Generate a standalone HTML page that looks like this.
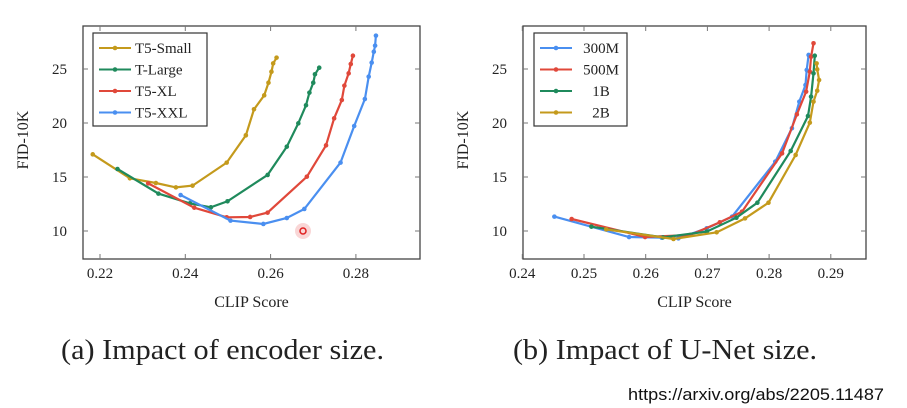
<!DOCTYPE html>
<html><head><meta charset="utf-8"><style>
body{margin:0;background:#fff;}
svg{display:block;}
text{font-family:"Liberation Serif",serif;fill:#222;}
</style></head><body>
<svg id="fig" width="907" height="408" viewBox="0 0 907 408"></svg>
<script>
// ---- data: chart (a) encoder size ----
const aNames = ["T5-Small","T-Large","T5-XL","T5-XXL"];
const aSmallX = [0.2183,0.2270,0.2331,0.2378,0.2417,0.2497,0.2542,0.2561,0.2585,0.2595,0.2602,0.2606,0.2614];
const aSmallY = [17.10,14.88,14.44,14.04,14.20,16.33,18.86,21.27,22.56,23.73,24.75,25.52,26.05];
const aLargeX = [0.2241,0.2337,0.2411,0.2460,0.2499,0.2593,0.2638,0.2665,0.2683,0.2691,0.2700,0.2704,0.2714];
const aLargeY = [15.74,13.46,12.56,12.19,12.75,15.19,17.81,19.97,21.64,22.81,23.73,24.51,25.12];
const aXLX = [0.2313,0.2421,0.2497,0.2552,0.2593,0.2685,0.2730,0.2749,0.2767,0.2773,0.2783,0.2788,0.2793];
const aXLY = [14.41,12.16,11.27,11.30,11.70,15.03,17.93,20.43,22.13,23.46,24.60,25.46,26.23];
const aXXLX = [0.2389,0.2506,0.2583,0.2638,0.2679,0.2764,0.2796,0.2821,0.2830,0.2837,0.2842,0.2845,0.2847];
const aXXLY = [13.33,10.96,10.65,11.20,12.04,16.33,19.72,22.22,24.29,25.59,26.60,27.16,28.09];
const aXTicks = [0.22,0.24,0.26,0.28];
// ---- data: chart (b) U-Net size ----
const bNames = ["300M","500M","1B","2B"];
const b300X = [0.2452,0.2573,0.2626,0.2653,0.2699,0.2740,0.2810,0.2837,0.2849,0.2859,0.2861,0.2864];
const b300Y = [11.33,9.44,9.38,9.32,10.25,11.33,16.42,19.51,21.98,23.52,24.91,26.30];
const b500X = [0.2480,0.2599,0.2672,0.2720,0.2756,0.2821,0.2845,0.2860,0.2866,0.2868,0.2872];
const b500Y = [11.11,9.44,9.63,10.80,11.79,17.19,20.80,22.90,24.75,26.14,27.38];
const b1BX = [0.2512,0.2628,0.2699,0.2747,0.2781,0.2835,0.2863,0.2868,0.2872,0.2874];
const b1BY = [10.40,9.41,9.94,11.23,12.62,17.41,20.65,22.44,24.60,26.23];
const b2BX = [0.2536,0.2645,0.2715,0.2761,0.2799,0.2843,0.2866,0.2872,0.2878,0.2881,0.2878,0.2877];
const b2BY = [10.15,9.26,9.88,11.17,12.62,17.04,20.03,21.98,22.99,23.98,24.97,25.52];
const bXTicks = [0.24,0.25,0.26,0.27,0.28,0.29];
const yTicks = [10,15,20,25];

const NS="http://www.w3.org/2000/svg";
const svg=document.getElementById('fig');
function el(tag,attrs,parent){const e=document.createElementNS(NS,tag);for(const k in attrs)e.setAttribute(k,attrs[k]);(parent||svg).appendChild(e);return e;}
const yScale=v=>231-(v-10)*10.8;

function panel(id,box,xScale,xTicks,series,colors,names,legendX){
  const g=el('g',{});
  
  
  const ax=el('rect',{x:box[0],y:26,width:box[1]-box[0],height:233,fill:'none',stroke:'#444','stroke-width':1.3},g);
  
  
  xTicks.forEach(t=>{
    const x=xScale(t);
    el('line',{x1:x,x2:x,y1:259,y2:254,stroke:'#777'},g);
    el('line',{x1:x,x2:x,y1:26,y2:31,stroke:'#777'},g);
    const tx=el('text',{x:x,y:278,'font-size':15,'text-anchor':'middle'},g);
    tx.textContent=t.toFixed(2);
    
    
  });
  yTicks.forEach(t=>{
    const y=yScale(t);
    el('line',{x1:box[0],x2:box[0]+5,y1:y,y2:y,stroke:'#777'},g);
    el('line',{x1:box[1],x2:box[1]-5,y1:y,y2:y,stroke:'#777'},g);
    const tx=el('text',{x:box[0]-16,y:y+5,'font-size':15,'text-anchor':'end'},g);
    tx.textContent=t;
    
    
  });
  const xt=el('text',{x:(box[0]+box[1])/2,y:307,'font-size':16,'text-anchor':'middle'},g);
  xt.textContent='CLIP Score';
  
  
  const yl=box[0]-55;
  const yt=el('text',{x:yl,y:140,'font-size':16,'text-anchor':'middle',transform:`rotate(-90 ${yl} 140)`},g);
  yt.textContent='FID-10K';
  
  
  series.forEach((s,i)=>{
    const pts=s[0].map((v,j)=>xScale(v).toFixed(1)+','+yScale(s[1][j]).toFixed(1)).join(' ');
    const pl=el('polyline',{points:pts,fill:'none',stroke:colors[i],'stroke-width':2.2},g);
    
    
    s[0].forEach((v,j)=>{
      const c=el('circle',{cx:xScale(v),cy:yScale(s[1][j]),r:2.3,fill:colors[i]},g);
      
      
    });
  });
  const lg=el('g',{},g);
  
  
  const lw=legendX[1];
  el('rect',{x:legendX[0],y:33,width:lw,height:93,fill:'#fff',stroke:'#333','stroke-width':1.2},lg);
  names.forEach((n,i)=>{
    const y=48+i*21.5;
    const e=el('g',{},lg);
    
    
    el('line',{x1:legendX[0]+6,x2:legendX[0]+38,y1:y,y2:y,stroke:colors[i],'stroke-width':2},e);
    el('circle',{cx:legendX[0]+22,cy:y,r:2.3,fill:colors[i]},e);
    const t=el('text',{x:legendX[2],y:y+5,'font-size':15,'text-anchor':legendX[3]},e);
    t.textContent=n;
  });
}
const cols=['#c49a1c','#1f8a5c','#e0483a','#4a8ff0'];
const xa=v=>100+(v-0.22)*4265;
panel('chart-encoder-size',[83,420],xa,aXTicks,
  [[aSmallX,aSmallY],[aLargeX,aLargeY],[aXLX,aXLY],[aXXLX,aXXLY]],cols,aNames,[93,114,135,'start']);
const xb=v=>584+(v-0.25)*6170;
panel('chart-unet-size',[523,866],xb,bXTicks,
  [[b300X,b300Y],[b500X,b500Y],[b1BX,b1BY],[b2BX,b2BY]],
  ['#4a8ff0','#e0483a','#1f8a5c','#c49a1c'],bNames,[534,93,601,'middle']);

// cursor marker artifact
const glow=el('circle',{cx:303,cy:231,r:8,fill:'#f7c4c4',opacity:0.7});


const mk=el('circle',{cx:303,cy:231,r:3,fill:'none',stroke:'#e02020','stroke-width':1.5});



const c1=el('text',{x:61,y:359,'font-size':28,textLength:323,lengthAdjust:'spacingAndGlyphs'});
c1.textContent='(a) Impact of encoder size.';


const c2=el('text',{x:513,y:359,'font-size':28,textLength:304,lengthAdjust:'spacingAndGlyphs'});
c2.textContent='(b) Impact of U-Net size.';


const u=el('text',{x:628,y:400,'font-size':17,textLength:256,lengthAdjust:'spacingAndGlyphs',style:'font-family:"Liberation Sans",sans-serif;fill:#111'});
u.textContent='https://arxiv.org/abs/2205.11487';


</script>
</body></html>
